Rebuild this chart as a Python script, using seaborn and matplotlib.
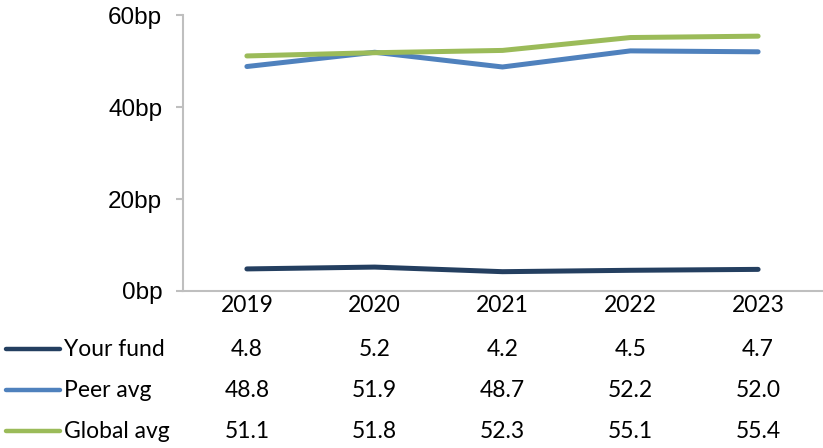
import pandas as pd
import matplotlib
matplotlib.use('Agg')
import matplotlib.pyplot as plt
import matplotlib.transforms as mtransforms
from matplotlib.lines import Line2D
import seaborn as sns

# 数据
years = ['2019', '2020', '2021', '2022', '2023']
series_names = ['Your fund', 'Peer avg', 'Global avg']
your_fund = [4.8, 5.2, 4.2, 4.5, 4.7]
peer_avg = [48.8, 51.9, 48.7, 52.2, 52.0]
global_avg = [51.1, 51.8, 52.3, 55.1, 55.4]
colors = ['#243F60', '#4F81BD', '#9BBB59']
y_ticks = [0, 20, 40, 60]

values = [your_fund, peer_avg, global_avg]
df = pd.DataFrame({
    'year': years * 3,
    'series': [n for n in series_names for _ in years],
    'bp': your_fund + peer_avg + global_avg,
})

sns.set_theme(style='white')
plt.rcParams['font.family'] = ['Liberation Sans', 'DejaVu Sans']

fig = plt.figure(figsize=(8.23, 4.48), dpi=100)
ax = fig.add_axes([183 / 823, 1 - 291 / 448, 639 / 823, 276 / 448])

sns.lineplot(data=df, x='year', y='bp', hue='series', hue_order=series_names,
             palette=colors, linewidth=3.6, sort=False, legend=False, ax=ax,
             solid_capstyle='round')

ax.set_xlim(-0.5, len(years) - 0.5)
ax.set_ylim(0, 60)
ax.set_yticks(y_ticks)
ax.set_yticklabels([f'{v}bp' for v in y_ticks], fontsize=17.5)
ax.set_xlabel('')
ax.set_ylabel('')

for s in ['top', 'right']:
    ax.spines[s].set_visible(False)
for s in ['left', 'bottom']:
    ax.spines[s].set_color('#BFBFBF')
    ax.spines[s].set_linewidth(1.5)
ax.tick_params(axis='y', which='major', left=True, length=5, width=1.5,
               color='#BFBFBF', pad=10, labelcolor='black')
ax.tick_params(axis='x', bottom=False, labelbottom=False)

# 下方数据表
tbl_font = ['Lato', 'DejaVu Sans']
fs = 16.5
blend = mtransforms.blended_transform_factory(ax.transData, fig.transFigure)
year_y = 1 - 305 / 448
for i, yr in enumerate(years):
    ax.text(i, year_y, yr, transform=blend, ha='center', va='center',
            fontsize=fs, family=tbl_font, color='black')

row_y = [1 - 349 / 448, 1 - 390 / 448, 1 - 431 / 448]
for name, vals, c, ry in zip(series_names, values, colors, row_y):
    fig.add_artist(Line2D([6 / 823, 60 / 823], [ry, ry], transform=fig.transFigure,
                          color=c, linewidth=3.2, solid_capstyle='round'))
    fig.text(64 / 823, ry, name, ha='left', va='center', fontsize=fs,
             family=tbl_font, color='black')
    for i, v in enumerate(vals):
        ax.text(i, ry, f'{v:.1f}', transform=blend, ha='center', va='center',
                fontsize=fs, family=tbl_font, color='black')

fig.savefig('out.png', dpi=100)
